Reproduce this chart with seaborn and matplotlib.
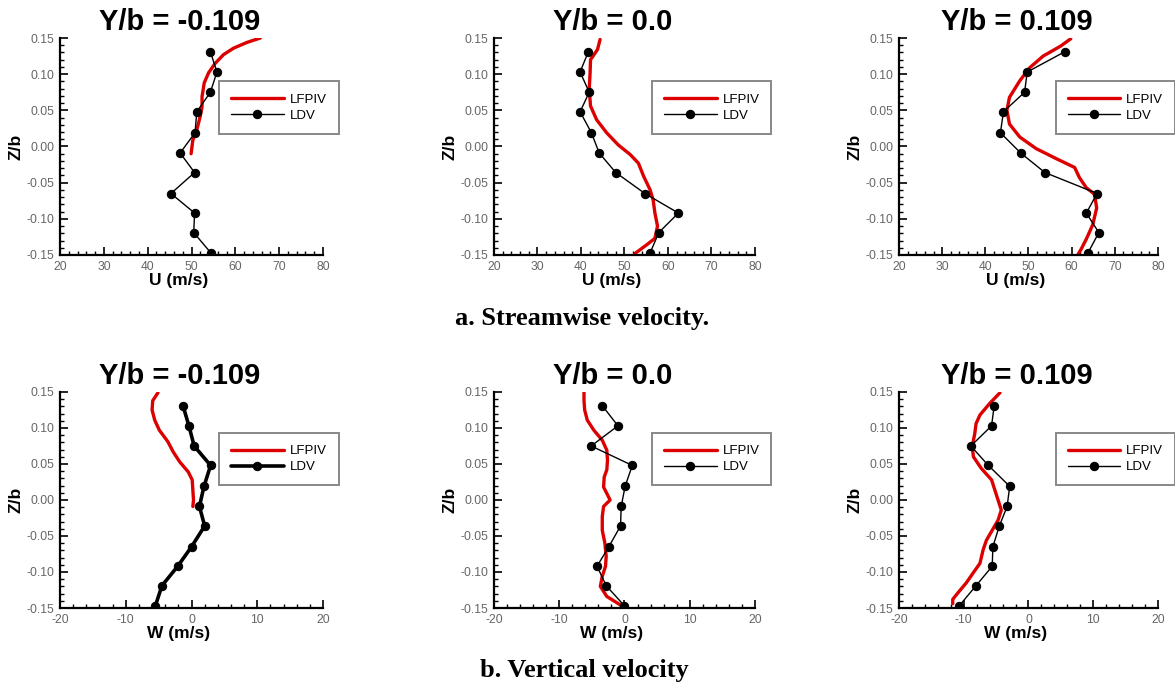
import numpy as np
import pandas as pd
import matplotlib
matplotlib.use("Agg")
import matplotlib.pyplot as plt
import seaborn as sns
from matplotlib.ticker import MultipleLocator, FormatStrFormatter

# ---------------- data ----------------
titles = ["Y/b = -0.109", "Y/b = 0.0", "Y/b = 0.109"]

z_ldv = [0.131, 0.103, 0.075, 0.048, 0.019, -0.009, -0.036, -0.065, -0.092, -0.119, -0.147]

# Streamwise velocity U (m/s)
u_ldv_m = [54.3, 55.8, 54.3, 51.2, 50.8, 47.4, 50.7, 45.3, 50.7, 50.5, 54.4]
u_ldv_0 = [41.7, 39.8, 41.9, 39.8, 42.4, 44.2, 48.0, 54.7, 62.4, 57.9, 55.9]
u_ldv_p = [58.4, 49.7, 49.1, 44.2, 43.5, 48.2, 53.8, 65.9, 63.4, 66.3, 63.8]

z_piv_u_m = [-0.010, 0.009, 0.023, 0.042, 0.055, 0.069, 0.088, 0.102, 0.115, 0.127, 0.136, 0.144, 0.150]
u_piv_m = [49.9, 50.3, 51.2, 52.0, 52.4, 52.4, 52.9, 53.9, 55.4, 57.3, 59.6, 62.7, 65.7]

z_piv_u_0 = [0.148, 0.134, 0.120, 0.102, 0.079, 0.056, 0.037, 0.019, 0.002, -0.011, -0.023,
             -0.041, -0.060, -0.074, -0.092, -0.110, -0.127, -0.136, -0.148]
u_piv_0 = [44.4, 43.8, 42.2, 42.1, 41.9, 42.2, 43.6, 45.9, 48.6, 51.3, 53.2,
           54.4, 55.9, 56.6, 57.0, 57.6, 57.0, 55.1, 52.4]

z_piv_u_p = [0.149, 0.139, 0.125, 0.109, 0.091, 0.068, 0.050, 0.031, 0.013, -0.003, -0.017,
             -0.029, -0.043, -0.057, -0.066, -0.085, -0.108, -0.128, -0.142, -0.150]
u_piv_p = [59.8, 57.5, 53.4, 50.3, 48.0, 45.6, 45.0, 45.6, 48.0, 51.8, 56.5,
           60.7, 61.8, 63.4, 65.3, 65.8, 64.9, 63.4, 62.2, 61.4]

# Vertical velocity W (m/s)
w_ldv_m = [-1.3, -0.4, 0.4, 2.9, 1.9, 1.2, 2.0, 0.0, -2.1, -4.5, -5.5]
w_ldv_0 = [-3.4, -1.0, -5.1, 1.2, 0.1, -0.5, -0.6, -2.4, -4.2, -2.8, 0.0]
w_ldv_p = [-5.3, -5.7, -8.9, -6.2, -2.9, -3.3, -4.5, -5.5, -5.6, -8.1, -10.7]

z_piv_w_m = [0.149, 0.138, 0.125, 0.111, 0.097, 0.081, 0.067, 0.053, 0.039, 0.028, 0.014, 0.000, -0.009]
w_piv_m = [-5.1, -5.9, -6.0, -5.6, -4.9, -3.6, -2.8, -1.8, -0.5, 0.1, 0.2, 0.3, 0.2]

z_piv_w_0 = [0.149, 0.138, 0.125, 0.111, 0.097, 0.083, 0.069, 0.055, 0.042, 0.032, 0.018, 0.009,
             0.000, -0.009, -0.023, -0.042, -0.060, -0.078, -0.092, -0.106, -0.120, -0.134, -0.147]
w_piv_0 = [-6.2, -6.2, -6.1, -5.7, -4.7, -3.4, -2.7, -2.6, -2.7, -3.1, -3.2, -2.7,
           -2.2, -3.2, -3.4, -3.4, -3.0, -2.8, -2.9, -3.4, -3.7, -2.7, -0.4]

z_piv_w_p = [0.149, 0.134, 0.118, 0.106, 0.092, 0.074, 0.060, 0.044, 0.028, 0.014, 0.000,
             -0.014, -0.028, -0.042, -0.056, -0.069, -0.088, -0.102, -0.115, -0.129, -0.138, -0.144]
w_piv_p = [-4.4, -6.0, -7.5, -8.1, -8.3, -8.7, -8.5, -7.3, -5.7, -5.2, -4.7,
           -4.2, -4.7, -5.6, -6.5, -7.0, -7.5, -8.6, -9.6, -10.9, -11.7, -11.7]

# ---------------- style ----------------
sns.set_theme(style="white")
plt.rcParams['font.family'] = ['Liberation Sans', 'DejaVu Sans']
plt.rcParams['axes.unicode_minus'] = False

RED = "#dd0000"
fig = plt.figure(figsize=(11.75, 6.86), dpi=100)

lefts = [0.0511, 0.4204, 0.7651]
widths = [0.2238, 0.2221, 0.2204]
bottoms = [0.6283, 0.1137]
heights = [0.3163, 0.3149]

rows = [
    dict(xlabel="U (m/s)", xlim=(20, 80), ldv=[u_ldv_m, u_ldv_0, u_ldv_p],
         piv=[(u_piv_m, z_piv_u_m), (u_piv_0, z_piv_u_0), (u_piv_p, z_piv_u_p)]),
    dict(xlabel="W (m/s)", xlim=(-20, 20), ldv=[w_ldv_m, w_ldv_0, w_ldv_p],
         piv=[(w_piv_m, z_piv_w_m), (w_piv_0, z_piv_w_0), (w_piv_p, z_piv_w_p)]),
]

for r, row in enumerate(rows):
    for c in range(3):
        ax = fig.add_axes([lefts[c], bottoms[r], widths[c], heights[r]])
        pv, pz = row["piv"][c]
        df_piv = pd.DataFrame({"v": pv, "z": pz})
        df_ldv = pd.DataFrame({"v": row["ldv"][c], "z": z_ldv})
        ldv_lw = 2.6 if (r == 1 and c == 0) else 1.0
        sns.lineplot(data=df_piv, x="v", y="z", sort=False, estimator=None, ax=ax,
                     color=RED, lw=2.4, label="LFPIV")
        sns.lineplot(data=df_ldv, x="v", y="z", sort=False, estimator=None, ax=ax,
                     color="black", lw=ldv_lw, marker="o", markersize=6,
                     markeredgecolor="black", markerfacecolor="black", label="LDV")
        ax.set_xlim(*row["xlim"])
        ax.set_ylim(-0.15, 0.15)
        ax.xaxis.set_major_locator(MultipleLocator(10))
        ax.xaxis.set_minor_locator(MultipleLocator(2))
        ax.yaxis.set_major_locator(MultipleLocator(0.05))
        ax.yaxis.set_minor_locator(MultipleLocator(0.01))
        ax.yaxis.set_major_formatter(FormatStrFormatter('%.2f'))
        ax.xaxis.set_major_formatter(FormatStrFormatter('%d'))
        for s in ["top", "right"]:
            ax.spines[s].set_visible(False)
        for s in ["left", "bottom"]:
            ax.spines[s].set_color("black")
            ax.spines[s].set_linewidth(1.6)
        ax.tick_params(which="major", direction="in", length=6, width=1.2, color="black",
                       labelsize=8.7, labelcolor="#666666", pad=4,
                       bottom=True, left=True)
        ax.tick_params(which="minor", direction="in", length=3, width=1.0, color="black",
                       bottom=True, left=True)
        ax.set_xlabel(row["xlabel"], fontsize=12.5, fontweight="bold", color="black",
                      x=0.45, labelpad=0)
        ax.set_ylabel("Z/b", fontsize=12.5, fontweight="bold", color="black", labelpad=2)
        ax.set_title(titles[c], fontsize=21, fontweight="bold", color="black",
                     x=0.455, pad=6)
        leg = ax.legend(loc="upper left", bbox_to_anchor=(0.605, 0.80 if r == 0 else 0.81),
                        fontsize=9.5, handlelength=4.0, handletextpad=0.45,
                        borderpad=0.9, labelspacing=0.3, frameon=True, fancybox=False,
                        edgecolor="#888888", framealpha=1.0, borderaxespad=0)
        leg.get_frame().set_linewidth(1.4)
        for t in leg.get_texts():
            t.set_color("black")

fig.text(0.495, 0.535, "a. Streamwise velocity.", ha="center", va="center", color="black",
         fontsize=19, fontweight="bold", family=["Liberation Serif", "DejaVu Serif"])
fig.text(0.497, 0.022, "b. Vertical velocity", ha="center", va="center", color="black",
         fontsize=19, fontweight="bold", family=["Liberation Serif", "DejaVu Serif"])

fig.savefig("out.png", dpi=100)
